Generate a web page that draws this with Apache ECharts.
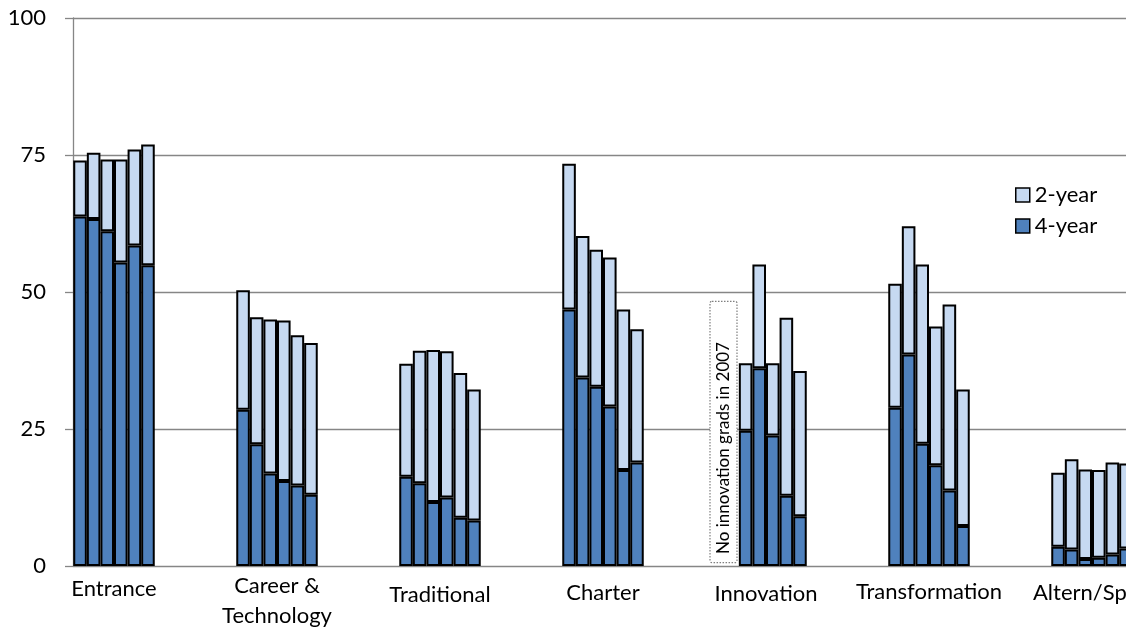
<!DOCTYPE html>
<html>
<head>
<meta charset="utf-8">
<script src="https://cdn.jsdelivr.net/npm/echarts@6/dist/echarts.min.js"></script>
<style>
  html, body { margin: 0; padding: 0; background: #fff; }
  #chart { width: 1126px; height: 628px; }
</style>
</head>
<body>
<div id="chart"></div>
<script>
// School types along the category axis
const categories = ['Entrance', 'Career &\nTechnology', 'Traditional', 'Charter', 'Innovation', 'Transformation', 'Altern/SpEd'];
// Graduating classes, one bar per year inside each school type
const years = ['2007', '2008', '2009', '2010', '2011', '2012'];
// Percent enrolling in a 4-year college (rows = school type, columns = year)
const fourYear = [
  [63.8, 63.3, 61.1, 55.4, 58.5, 54.9],
  [28.5, 22.2, 16.9, 15.5, 14.7, 13.0],
  [16.3, 15.1, 11.7, 12.5, 8.8, 8.3],
  [46.8, 34.4, 32.7, 29.1, 17.5, 18.9],
  [null, 24.7, 36.1, 23.8, 12.8, 9.1],
  [28.9, 38.6, 22.3, 18.4, 13.8, 7.3],
  [3.5, 3.0, 1.3, 1.5, 2.1, 3.2]
];
// Percent enrolling in a 2-year college, stacked on top
const twoYear = [
  [10.2, 12.1, 13.1, 18.8, 17.5, 22.0],
  [21.8, 23.2, 28.1, 29.3, 27.4, 27.7],
  [20.6, 24.2, 27.7, 26.7, 26.4, 23.9],
  [26.6, 25.8, 25.0, 27.2, 29.3, 24.3],
  [null, 12.3, 18.9, 13.2, 32.5, 26.5],
  [22.6, 23.4, 32.7, 25.3, 33.9, 24.9],
  [13.5, 16.5, 16.3, 16.0, 16.8, 15.5]
];
const yTicks = [0, 25, 50, 75, 100];
const noteText = 'No innovation grads in 2007';

const FONT = 'Lato';
const DARK = '#4F81BD';
const LIGHT = '#C6D9F1';
const GRID_GRAY = '#868686';

// per-label vertical nudge, in px
const labelDrop = [5, 0, 18, 13, 15, 12, 13];
const rich = {};
labelDrop.forEach((d, i) => {
  rich['l' + i] = { fontFamily: FONT, fontSize: 22, color: '#000', lineHeight: 30, padding: [d, 0, 0, 0] };
});

const series = [];
years.forEach((yr, j) => {
  const common = {
    type: 'bar', stack: 'y' + yr, xAxisIndex: 0, yAxisIndex: 0,
    barGap: '0%', barCategoryGap: '50%', animation: false
  };
  series.push(Object.assign({}, common, {
    name: '4-year',
    data: fourYear.map(r => r[j]),
    itemStyle: { color: DARK, borderColor: '#000', borderWidth: 2 }
  }));
  series.push(Object.assign({}, common, {
    name: '2-year',
    data: twoYear.map(r => r[j]),
    itemStyle: { color: LIGHT, borderColor: '#000', borderWidth: 2 }
  }));
});

const chart = echarts.init(document.getElementById('chart'), null, { renderer: 'canvas' });

chart.setOption({
  animation: false,
  grid: [
    // bars; the last group runs past the right edge
    { left: 32.5, top: 18, height: 548, width: 1141, outerBoundsMode: 'none', containLabel: false },
    // value axis, grid lines
    { left: 73, top: 18, height: 548, right: 0, outerBoundsMode: 'none', containLabel: false }
  ],
  legend: {
    orient: 'vertical', left: 1010, top: 179,
    itemWidth: 14, itemHeight: 14, itemGap: 9,
    textStyle: { fontFamily: FONT, fontSize: 22, color: '#000' },
    data: [
      { name: '2-year', icon: 'rect', itemStyle: { color: LIGHT, borderColor: '#000', borderWidth: 1.5 } },
      { name: '4-year', icon: 'rect', itemStyle: { color: DARK, borderColor: '#000', borderWidth: 1.5 } }
    ]
  },
  xAxis: [
    {
      type: 'category', gridIndex: 0, data: categories,
      axisLine: { show: false }, axisTick: { show: false },
      axisLabel: {
        interval: 0, margin: 5, hideOverlap: false,
        formatter: (v, i) => v.split('\n').map(s => '{l' + i + '|' + s + '}').join('\n'),
        rich: rich
      }
    },
    { type: 'value', gridIndex: 1, show: false, min: 0, max: 1 }
  ],
  yAxis: [
    { type: 'value', gridIndex: 0, min: 0, max: 100, interval: 25, show: false },
    {
      type: 'value', gridIndex: 1, min: yTicks[0], max: yTicks[yTicks.length - 1], interval: 25,
      axisLine: { show: true, lineStyle: { color: GRID_GRAY, width: 1.3 } },
      axisTick: { show: true, length: 8, lineStyle: { color: GRID_GRAY, width: 1.3 } },
      splitLine: { show: true, lineStyle: { color: GRID_GRAY, width: 1.3 } },
      axisLabel: { margin: 27, fontFamily: FONT, fontSize: 22, color: '#000' }
    }
  ],
  series: series
});

// Dotted note box in the empty 2007 slot of the Innovation group
const cx = chart.convertToPixel({ xAxisIndex: 0 }, 'Innovation');
const yTop = chart.convertToPixel({ yAxisIndex: 0 }, 48.3);
const yBot = chart.convertToPixel({ yAxisIndex: 0 }, 0.6);
const boxL = cx - 56, boxR = cx - 29;
chart.setOption({
  graphic: [
    {
      type: 'rect', z: 10,
      shape: { x: boxL, y: yTop, width: boxR - boxL, height: yBot - yTop, r: 2 },
      style: { fill: '#fff', stroke: '#7f7f7f', lineWidth: 1.2, lineDash: [1.5, 1.5] }
    },
    {
      type: 'text', z: 11,
      x: (boxL + boxR) / 2, y: (yTop + yBot) / 2 + 16, rotation: Math.PI / 2,
      style: {
        text: noteText, fontFamily: FONT, fontSize: 17, fill: '#000',
        align: 'center', verticalAlign: 'middle'
      }
    }
  ]
});
</script>
</body>
</html>
